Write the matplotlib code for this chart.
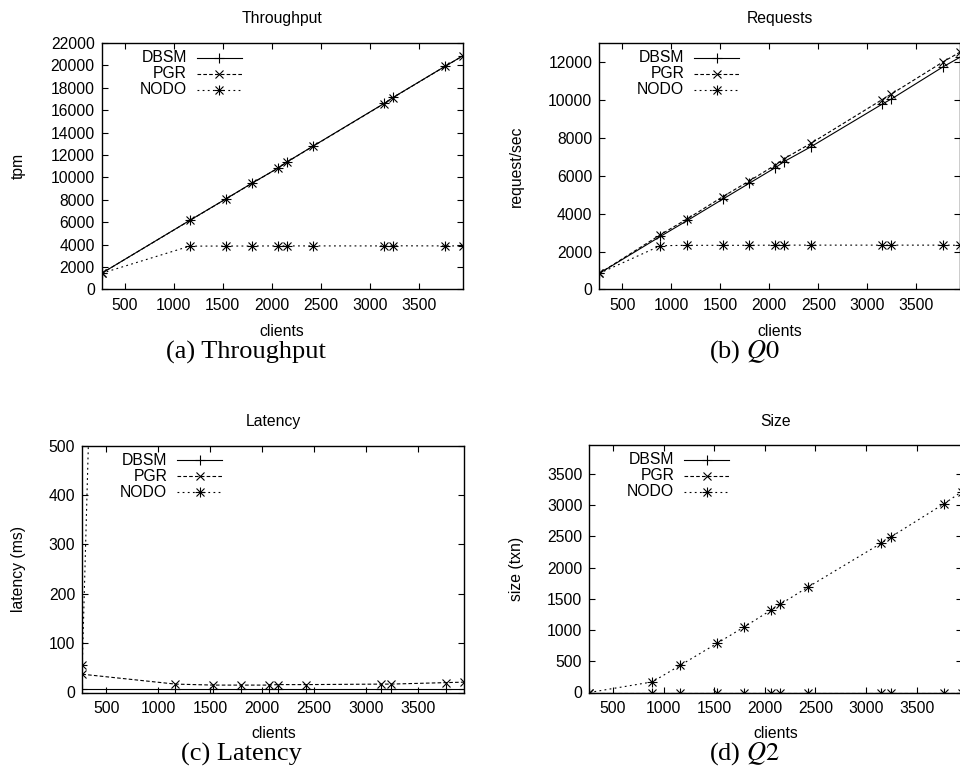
import matplotlib
matplotlib.use("Agg")
import matplotlib.pyplot as plt

plt.rcParams['font.family'] = ['Liberation Sans', 'DejaVu Sans']
plt.rcParams['mathtext.fontset'] = 'stix'
plt.rcParams['lines.scale_dashes'] = False

# ---------------- data ----------------
clients_short = [267, 1165, 1530, 1800, 2063, 2152, 2425, 3148, 3238, 3770, 3948]
clients_full = [267, 890, 1165, 1527, 1798, 2063, 2152, 2425, 3152, 3242, 3770, 3948]

tp_dbsm = [1450, 6170, 8070, 9490, 10830, 11360, 12810, 16610, 17140, 19930, 20850]
tp_pgr = [1450, 6160, 8060, 9480, 10820, 11350, 12800, 16600, 17130, 19920, 20840]
tp_nodo = [1450, 3870, 3880, 3880, 3890, 3890, 3890, 3890, 3900, 3890, 3890]

rq_dbsm = [850, 2800, 3640, 4770, 5610, 6430, 6750, 7530, 9780, 10040, 11740, 12260]
rq_pgr = [850, 2890, 3730, 4900, 5730, 6570, 6900, 7710, 10020, 10300, 12000, 12530]
rq_nodo = [850, 2310, 2330, 2330, 2330, 2340, 2340, 2340, 2340, 2340, 2340, 2330]

lat_dbsm = [7, 7, 7, 7, 7, 7, 7, 7, 7, 7, 7]
lat_pgr = [37, 17, 15, 15, 15, 16, 16, 17, 17, 20, 21]
lat_nodo = [56, 6900, 9100, 10500, 11600, 12000, 12800, 14500, 14700, 15600, 15900]

sz_dbsm = [0, 0, 0, 0, 0, 0, 0, 0, 0, 0, 0, 0]
sz_pgr = [0, 0, 0, 0, 0, 0, 0, 0, 0, 0, 0, 0]
sz_nodo = [0, 170, 435, 785, 1050, 1320, 1410, 1685, 2390, 2485, 3020, 3215]

series_names = ["DBSM", "PGR", "NODO"]
titles = ["Throughput", "Requests", "Latency", "Size"]
ylabels = ["tpm", "request/sec", "latency (ms)", "size (txn)"]
captions = ["(a) Throughput", "(b) $Q0$", "(c) Latency", "(d) $Q2$"]
xticks = [500, 1000, 1500, 2000, 2500, 3000, 3500]
xlim = (267, 3948)

W, H = 960, 782
fig = plt.figure(figsize=(W / 100, H / 100), dpi=100)

# panel geometry in pixels: left, top, right, bottom
panels = [
    dict(box=(101.7, 43.0, 462.7, 289.5), x=clients_short, ys=(tp_dbsm, tp_pgr, tp_nodo),
         ylim=(0, 22000), yticks=list(range(0, 22001, 2000)),
         ylab_x=18, clients_y=331, cap=(246, 352)),
    dict(box=(599.3, 43.0, 960.4, 289.5), x=clients_full, ys=(rq_dbsm, rq_pgr, rq_nodo),
         ylim=(0, 13000), yticks=list(range(0, 12001, 2000)),
         ylab_x=516, clients_y=331, cap=(744, 352)),
    dict(box=(82.3, 445.5, 464.3, 692.5), x=clients_short, ys=(lat_dbsm, lat_pgr, lat_nodo),
         ylim=(0, 500), yticks=list(range(0, 501, 100)),
         ylab_x=19, clients_y=733, cap=(241, 754)),
    dict(box=(589.3, 445.0, 962.0, 692.5), x=clients_full, ys=(sz_dbsm, sz_pgr, sz_nodo),
         ylim=(0, 3960), yticks=list(range(0, 3501, 500)),
         ylab_x=516, clients_y=733, cap=(744, 754)),
]

styles = [
    dict(ls='-', marker='+', ms=6.5),
    dict(ls=(0, (2.6, 1.6)), marker='x', ms=5.5),
    dict(ls=(0, (1.3, 2.4)), marker='+', ms=7.5),
]
LW = 0.8
FS = 11.3


def draw_series(ax, x, y, k):
    st = styles[k]
    ax.plot(x, y, color='black', lw=LW, ls=st['ls'], marker=st['marker'], ms=st['ms'],
            mew=LW)
    if k == 2:
        ax.plot(x, y, color='black', lw=0, marker='x', ms=6.0, mew=LW)


for i, p in enumerate(panels):
    l, t, r, b = p['box']
    ax = fig.add_axes([l / W, 1 - b / H, (r - l) / W, (b - t) / H])
    x = p['x']
    for k, y in enumerate(p['ys']):
        draw_series(ax, x, y, k)
    ax.set_xlim(*xlim)
    ax.set_ylim(*p['ylim'])
    ax.set_xticks(xticks)
    ax.set_yticks(p['yticks'])
    ax.tick_params(direction='in', length=4.5, width=0.8, top=True, right=True,
                   labelsize=FS, color='black')
    ax.tick_params(axis='x', pad=6.0)
    ax.tick_params(axis='y', pad=5.0)
    for s in ax.spines.values():
        s.set_linewidth(1.0)

    # legend (gnuplot style: label right-aligned, sample on the right)
    wpx, hpx = r - l, b - t
    for k, name in enumerate(series_names):
        dy = 14.8 + 15.9 * k
        fy = 1 - dy / hpx
        st = styles[k]
        ax.text(85 / wpx, fy, name, transform=ax.transAxes, ha='right', va='center',
                fontsize=FS)
        ax.plot([95 / wpx, 140 / wpx], [fy, fy], color='black', lw=LW, ls=st['ls'],
                transform=ax.transAxes, clip_on=False)
        mx = 117.5 / wpx
        ax.plot([mx], [fy], color='black', lw=0, marker=st['marker'], ms=st['ms'],
                mew=LW, transform=ax.transAxes, clip_on=False)
        if k == 2:
            ax.plot([mx], [fy], color='black', lw=0, marker='x', ms=6.0,
                    mew=LW, transform=ax.transAxes, clip_on=False)

    cx = (l + r) / 2
    fig.text(cx / W, 1 - (t - 24) / H, titles[i], ha='center', va='center', fontsize=FS)
    fig.text(p['ylab_x'] / W, 1 - ((t + b) / 2) / H, ylabels[i], rotation=90,
             ha='center', va='center', fontsize=FS)
    fig.text(cx / W, 1 - p['clients_y'] / H, 'clients', ha='center', va='center',
             fontsize=FS)
    fig.text(p['cap'][0] / W, 1 - p['cap'][1] / H, captions[i], ha='center',
             va='center', fontsize=19, family=['Liberation Serif', 'DejaVu Serif'])

fig.savefig('out.png', dpi=100)
